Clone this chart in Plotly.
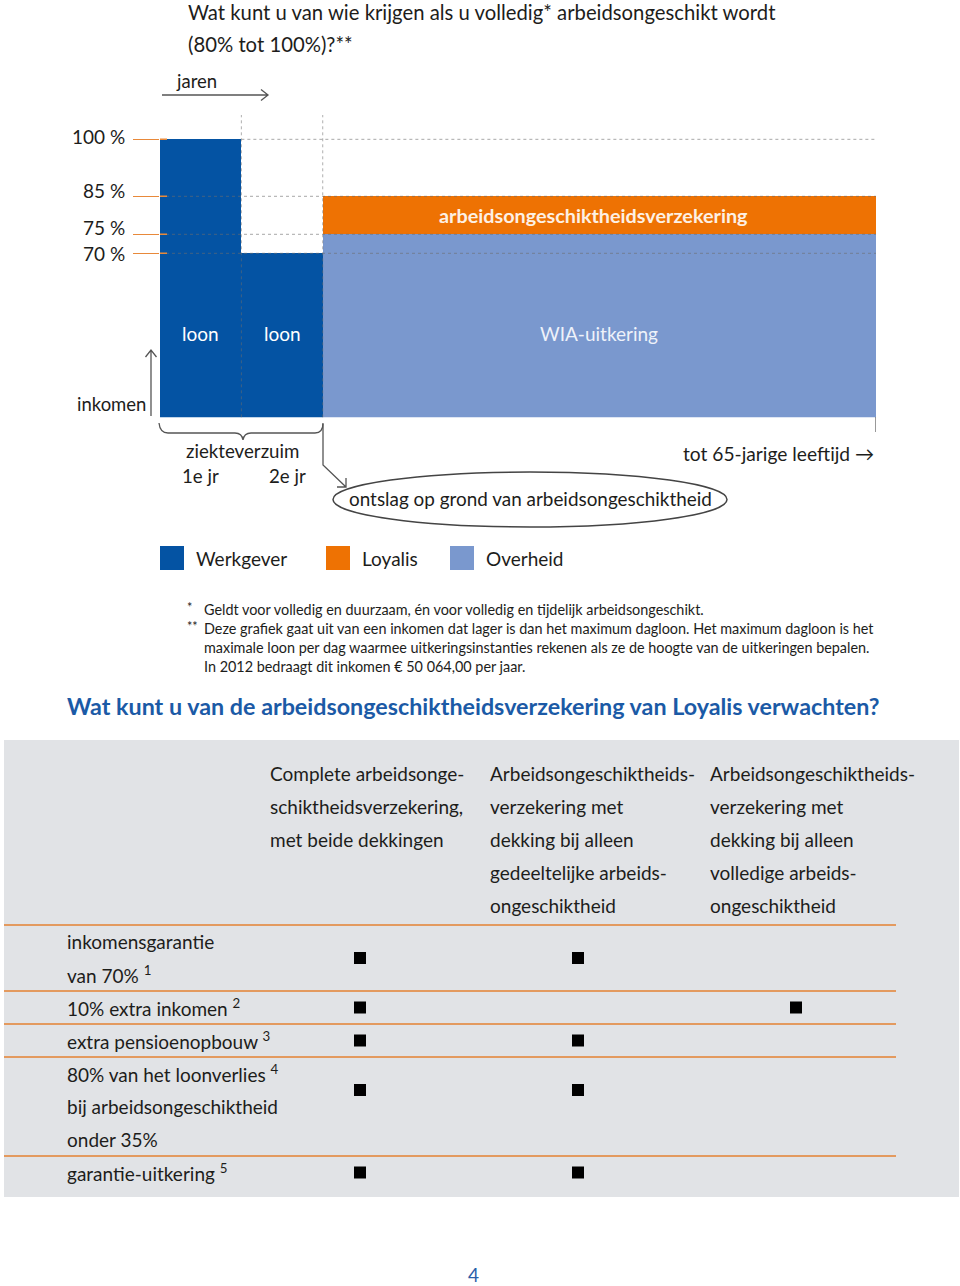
import plotly.graph_objects as go

# ---------------- data ----------------
periodes = ["1e jr", "2e jr", "tot 65-jarige leeftijd"]
periode_start = [0, 1, 2]
periode_eind = [1, 2, 8.8]
werkgever = [100, 70, 0]
overheid = [0, 0, 75]
loyalis = [0, 0, 10]
niveaus = [100, 85, 75, 70]
niveau_labels = ["100 %", "85 %", "75 %", "70 %"]
bar_labels = ["loon", "loon", "WIA-uitkering"]

legend_names = ["Werkgever", "Loyalis", "Overheid"]
C_WG, C_LO, C_OV = "#0453a3", "#ee7203", "#7a98ce"
legend_colors = [C_WG, C_LO, C_OV]

kolommen = [
    ["Complete arbeidsonge-", "schiktheidsverzekering,", "met beide dekkingen"],
    ["Arbeidsongeschiktheids-", "verzekering met", "dekking bij alleen",
     "gedeeltelijke arbeids-", "ongeschiktheid"],
    ["Arbeidsongeschiktheids-", "verzekering met", "dekking bij alleen",
     "volledige arbeids-", "ongeschiktheid"],
]
rijen = [
    ["inkomensgarantie", "van 70% <sup>1</sup>"],
    ["10% extra inkomen <sup>2</sup>"],
    ["extra pensioenopbouw <sup>3</sup>"],
    ["80% van het loonverlies <sup>4</sup>", "bij arbeidsongeschiktheid", "onder 35%"],
    ["garantie-uitkering <sup>5</sup>"],
]
dekking = [
    [1, 1, 0],
    [1, 0, 1],
    [1, 1, 0],
    [1, 1, 0],
    [1, 1, 0],
]
voetnoten = [
    ("*", "Geldt voor volledig en duurzaam, én voor volledig en tijdelijk arbeidsongeschikt."),
    ("**", "Deze grafiek gaat uit van een inkomen dat lager is dan het maximum dagloon. Het maximum dagloon is het"),
    ("", "maximale loon per dag waarmee uitkeringsinstanties rekenen als ze de hoogte van de uitkeringen bepalen."),
    ("", "In 2012 bedraagt dit inkomen € 50 064,00 per jaar."),
]

# ---------------- layout helpers ----------------
OFF = 0                      # page margin removed via post_script
W, H = 960, 1286             # figure size
FONT = "Lato"
TXT = "#1d1d1b"


def px(x):
    return (x - OFF) / W


def py(y):
    return 1 - (y - OFF) / H


def path(*segs):
    out = []
    for seg in segs:
        for i, (x, y) in enumerate(seg):
            out.append(("M" if i == 0 else "L") + f" {px(x):.5f} {py(y):.5f}")
    return " ".join(out)


Y_BOT, Y_TOP = 26.84, 106.4

fig = go.Figure()

centers = [(a + b) / 2 for a, b in zip(periode_start, periode_eind)]
widths = [b - a for a, b in zip(periode_start, periode_eind)]
for name, vals, col in [("Werkgever", werkgever, C_WG), ("Overheid", overheid, C_OV),
                        ("Loyalis", loyalis, C_LO)]:
    fig.add_trace(go.Bar(x=centers, y=vals, width=widths, name=name,
                         marker=dict(color=col, line=dict(width=0)),
                         showlegend=False, hoverinfo="skip", xaxis="x", yaxis="y"))

shapes = []
ann = []

# dotted guide lines
for lvl in niveaus:
    shapes.append(dict(type="line", xref="x", yref="y",
                       x0=(1 if lvl == max(niveaus) else 0), x1=periode_eind[-1],
                       y0=lvl, y1=lvl, layer="above",
                       line=dict(color="rgba(110,110,110,0.6)", width=1, dash="dot")))
for xb in periode_start[1:]:
    shapes.append(dict(type="line", xref="x", yref="y domain", x0=xb, x1=xb, y0=0, y1=1,
                       layer="above",
                       line=dict(color="rgba(110,110,110,0.55)", width=1, dash="dot")))
# end tick
shapes.append(dict(type="line", xref="x", yref="paper", x0=periode_eind[-1], x1=periode_eind[-1],
                   y0=py(417), y1=py(432), line=dict(color="#555", width=1.2)))
# orange tick stubs reaching into the first bar
for lvl in niveaus:
    shapes.append(dict(type="line", xref="paper", yref="y", x0=px(160), x1=px(167),
                       y0=lvl, y1=lvl, layer="above", line=dict(color="#e8893a", width=1.5)))

# level labels
shifts = [3, 6, 7, 0]
for lvl, lab, s in zip(niveaus, niveau_labels, shifts):
    ann.append(dict(text=lab, xref="paper", yref="y", x=px(127), y=lvl, yshift=s,
                    xanchor="right", yanchor="middle", showarrow=False,
                    font=dict(family=FONT, size=19, color=TXT)))

# bar labels
for c, lab in zip(centers, bar_labels):
    ann.append(dict(text=lab, xref="x", yref="y", x=c, y=49, showarrow=False,
                    font=dict(family=FONT, size=19,
                              color="white" if lab == "loon" else "#eef2fa")))
ann.append(dict(text="<b>arbeidsongeschiktheidsverzekering</b>", xref="x", yref="y",
                x=centers[2], xshift=-6, y=overheid[2] + loyalis[2] / 2,
                showarrow=False, font=dict(family=FONT, size=19.8, color="#fdf0e4")))


def txt(s, x, y, size=19, anchor="left", color=TXT, bold=False):
    ann.append(dict(text=(f"<b>{s}</b>" if bold else s), xref="paper", yref="paper",
                    x=px(x), y=py(y), xanchor=anchor, yanchor="middle", showarrow=False,
                    font=dict(family=FONT, size=size, color=color)))


txt("Wat kunt u van wie krijgen als u volledig* arbeidsongeschikt wordt", 186, 12, size=20.3)
txt("(80% tot 100%)?**", 186, 44, size=20.3)
txt("jaren", 174, 81, size=18.5)
txt("inkomen", 75, 404, size=18.5)
txt("ziekteverzuim", 242, 451, size=18.7, anchor="center")
txt(periodes[0], 200, 476, size=18.7, anchor="center")
txt(periodes[1], 287, 476, size=18.7, anchor="center")
txt(periodes[2] + " →", 876, 453, size=19.2, anchor="right")
txt("ontslag op grond van arbeidsongeschiktheid", 530, 499, size=18.9, anchor="center")

# arrows / brace
GR = dict(color="#555", width=1.3)
shapes.append(dict(type="path", xref="paper", yref="paper", line=GR,
                   path=path([(162, 95), (268, 95)], [(261, 89.5), (268, 95), (261, 100.5)])))
shapes.append(dict(type="path", xref="paper", yref="paper", line=GR,
                   path=path([(151, 416), (151, 350)], [(145.5, 357), (151, 350), (156.5, 357)])))
brace = (f"M {px(159):.5f} {py(423):.5f} Q {px(160):.5f} {py(433):.5f} {px(168):.5f} {py(433):.5f} "
         f"L {px(235):.5f} {py(433):.5f} Q {px(242):.5f} {py(433):.5f} {px(243):.5f} {py(440):.5f} "
         f"Q {px(244):.5f} {py(433):.5f} {px(251):.5f} {py(433):.5f} "
         f"L {px(315):.5f} {py(433):.5f} Q {px(323):.5f} {py(433):.5f} {px(323):.5f} {py(423):.5f}")
shapes.append(dict(type="path", xref="paper", yref="paper", line=GR, path=brace))
shapes.append(dict(type="path", xref="paper", yref="paper", line=GR,
                   path=path([(323, 424), (323, 465), (346, 487)], [(337, 487), (346, 487), (346, 478)])))
shapes.append(dict(type="circle", xref="paper", yref="paper", x0=px(333), x1=px(727),
                   y0=py(527), y1=py(472), line=dict(color="#444", width=1.5)))

# legend
leg_x = [160, 326, 450]
for xx, name, col in zip(leg_x, legend_names, legend_colors):
    shapes.append(dict(type="rect", xref="paper", yref="paper", x0=px(xx), x1=px(xx + 24),
                       y0=py(570), y1=py(546), fillcolor=col, line=dict(width=0)))
    txt(name, xx + 34, 558, size=19)

# footnotes
for i, (mark, s) in enumerate(voetnoten):
    yy = 609 + i * 19.3
    if mark:
        txt(mark, 185, yy - 2, size=12.5)
    txt(s, 202, yy, size=14.4)

txt("Wat kunt u van de arbeidsongeschiktheidsverzekering van Loyalis verwachten?", 65, 706,
    size=23.3, color="#1b5aa6", bold=True)

txt("4", 473, 1274, size=19, anchor="center", color="#2b5ea9")

# ---------------- table ----------------
Y0_PX, L_PX = 925, 33.0  # table unit system
shapes.append(dict(type="rect", xref="paper", yref="paper", x0=px(4), x1=px(959),
                   y0=py(1197), y1=py(740), fillcolor="#e1e3e6", line=dict(width=0), layer="below"))

col_text_x = [268, 488, 708]
for cx, lines in zip(col_text_x, kolommen):
    for k, s in enumerate(lines):
        ann.append(dict(text=s, xref="paper", yref="y2", x=px(cx), y=-5 + 0.42 + k,
                        xanchor="left", yanchor="middle", showarrow=False,
                        font=dict(family=FONT, size=19, color=TXT)))

RULE = dict(color="#e39a5f", width=2)
start = 0
mx, my = [], []
shapes.append(dict(type="line", xref="paper", yref="y2", x0=px(4), x1=px(896), y0=0, y1=0, line=RULE))
for r, (lines, marks) in enumerate(zip(rijen, dekking)):
    n = len(lines)
    for k, s in enumerate(lines):
        ann.append(dict(text=s, xref="paper", yref="y2", x=px(65), y=start + 0.5 + k,
                        xanchor="left", yanchor="middle", showarrow=False,
                        font=dict(family=FONT, size=19, color=TXT)))
    for c, m in enumerate(marks):
        if m:
            mx.append(c + 1)
            my.append(start + min(n, 2) / 2)
    start += n
    if r < len(rijen) - 1:
        shapes.append(dict(type="line", xref="paper", yref="y2", x0=px(4), x1=px(896),
                           y0=start, y1=start, line=RULE))

fig.add_trace(go.Scatter(x=mx, y=my, mode="markers", xaxis="x2", yaxis="y2",
                         marker=dict(symbol="square", size=12, color="black"),
                         showlegend=False, hoverinfo="skip"))

x2_left = 1 - (360 - OFF) / 218
fig.update_layout(
    width=W, height=H, margin=dict(l=0, r=0, t=0, b=0),
    paper_bgcolor="white", plot_bgcolor="rgba(0,0,0,0)",
    barmode="stack", bargap=0,
    xaxis=dict(domain=[px(160), px(876)], range=[0, periode_eind[-1]], showgrid=False,
               zeroline=False, showticklabels=False, showline=False, fixedrange=True),
    yaxis=dict(domain=[py(417.3), py(115)], range=[Y_BOT, Y_TOP], showgrid=False,
               zeroline=False, showticklabels=False, showline=False,
               tickmode="array", tickvals=niveaus, ticks="outside", ticklen=26,
               tickcolor="#e8893a", tickwidth=1.5, fixedrange=True),
    xaxis2=dict(domain=[0, 1], range=[x2_left, x2_left + W / 218], anchor="y2",
                visible=False, fixedrange=True),
    yaxis2=dict(domain=[0, 1], range=[(OFF + H - Y0_PX) / L_PX, (OFF - Y0_PX) / L_PX],
                anchor="x2", visible=False, fixedrange=True),
    shapes=shapes, annotations=ann, showlegend=False, hovermode=False,
)

fig.write_html("out.html", config={"displayModeBar": False, "staticPlot": True},
               post_script="document.body.style.margin='0';document.body.style.overflow='hidden';")
